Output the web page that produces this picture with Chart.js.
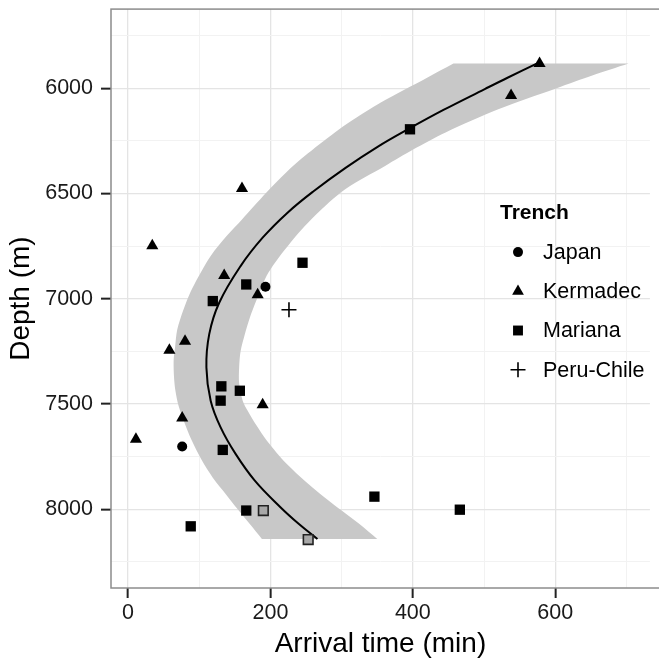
<!DOCTYPE html>
<html><head><meta charset="utf-8">
<script src="https://cdn.jsdelivr.net/npm/chart.js@4.4.0/dist/chart.umd.min.js"></script>
<style>html,body{margin:0;padding:0;background:#fff;overflow:hidden}#wrap{width:659px;height:661px}</style>
</head><body><div id="wrap"><canvas id="c" width="659" height="661"></canvas></div>
<script>
// ---- data (arrival time in min, depth in m) ----
const japanTime = [193, 76];
const japanDepth = [6943, 7702];
const kermadecTime = [578, 538, 160, 34, 135, 182, 80, 58, 189, 76, 11];
const kermadecDepth = [5883, 6035, 6476, 6748, 6890, 6981, 7202, 7245, 7503, 7566, 7667];
const marianaTime = [396, 245, 166, 119, 131, 157, 130, 133, 346, 166, 466, 88];
const marianaDepth = [6195, 6829, 6932, 7011, 7416, 7437, 7484, 7718, 7940, 8006, 8002, 8081];
const marianaGreyTime = [190, 253];
const marianaGreyDepth = [8006, 8144];
const peruChileTime = [226];
const peruChileDepth = [7052];

// fitted curve
const fitDepth = [5883, 5950, 6004, 6103, 6195, 6277, 6377, 6488, 6591, 6710, 6845, 7019, 7168, 7326, 7484, 7611, 7737, 7864, 7990, 8070, 8141];
const fitTime  = [574, 533, 501, 443, 393, 351, 306, 261, 224, 189, 158, 128, 114, 110, 116, 130, 151, 178, 214, 240, 266];

// confidence band edges
const bandLowDepth = [5883, 5950, 6068, 6150, 6211, 6322, 6400, 6496, 6623, 6700, 6797, 6900, 6966, 7050, 7147, 7230, 7292, 7370, 7437, 7510, 7583, 7670, 7764, 7850, 7927, 8000, 8070, 8141];
const bandLowTime  = [457, 420, 355, 316, 290, 248, 222, 194, 160, 139, 116, 98, 88, 78, 69, 66, 64, 64.5, 66.5, 71, 78.6, 89, 103, 119, 137, 154, 171, 188];
const bandHighDepth = [5883, 5940, 6000, 6100, 6210, 6290, 6369, 6480, 6607, 6734, 6877, 7010, 7090, 7168, 7250, 7326, 7400, 7484, 7532, 7600, 7674, 7785, 7896, 8006, 8070, 8141];
const bandHighTime  = [703, 652, 602, 520, 446, 401, 361, 305, 262, 228, 197, 180, 171, 164, 158, 156, 156, 161, 168, 180, 195, 223, 259, 300, 325, 350];

const xTickLabels = [0, 200, 400, 600];
const xGridValues = [0, 100, 200, 300, 400, 500, 600, 700];
const yTickLabels = [6000, 6500, 7000, 7500, 8000];
const yGridValues = [5750, 6000, 6250, 6500, 6750, 7000, 7250, 7500, 7750, 8000, 8250];
const legendTitle = 'Trench';
const legendNames = ['Japan', 'Kermadec', 'Mariana', 'Peru-Chile'];
const xTitle = 'Arrival time (min)';
const yTitle = 'Depth (m)';

const pts = (xs, ys) => xs.map((v, i) => ({x: v, y: ys[i]}));
// closed band outline: lower edge down, upper edge back up; corner points doubled to keep them sharp
const bandLow = pts(bandLowTime, bandLowDepth);
const bandHigh = pts(bandHighTime, bandHighDepth).reverse();
const bandPoints = bandLow
  .concat([bandLow[bandLow.length - 1], bandHigh[0]])
  .concat(bandHigh)
  .concat([bandHigh[bandHigh.length - 1]]);

const FONT = '"Liberation Sans", Arial, Helvetica, sans-serif';
Chart.defaults.font.family = FONT;

const legendStyles = [
  {style: 'circle', r: 5},
  {style: 'triangle', r: 6.8},
  {style: 'rect', r: 7},
  {style: 'cross', r: 7.5}
];

function drawSymbol(ctx, s, x, y) {
  ctx.beginPath();
  if (s.style === 'circle') {
    ctx.arc(x, y, s.r, 0, Math.PI * 2); ctx.fill();
  } else if (s.style === 'triangle') {
    const r = s.r;
    ctx.moveTo(x, y - r);
    ctx.lineTo(x + r * Math.sqrt(3) / 2, y + r / 2);
    ctx.lineTo(x - r * Math.sqrt(3) / 2, y + r / 2);
    ctx.closePath(); ctx.fill();
  } else if (s.style === 'rect') {
    const h = s.r * Math.SQRT1_2;
    ctx.rect(x - h, y - h, 2 * h, 2 * h); ctx.fill();
  } else {
    ctx.lineWidth = 1.6;
    ctx.moveTo(x - s.r, y); ctx.lineTo(x + s.r, y);
    ctx.moveTo(x, y - s.r); ctx.lineTo(x, y + s.r);
    ctx.stroke();
  }
}

const framePlugin = {
  id: 'frame',
  afterDatasetsDraw(chart) {
    const {ctx, chartArea: a} = chart;
    ctx.save();
    ctx.strokeStyle = '#8c8c8c';
    ctx.lineWidth = 1.5;
    ctx.strokeRect(a.left, a.top, a.right - a.left + 10, a.bottom - a.top);
    // legend
    const lx = a.left + 389, ly = a.top + 204;
    ctx.fillStyle = '#000';
    ctx.strokeStyle = '#000';
    ctx.textBaseline = 'middle';
    ctx.textAlign = 'left';
    ctx.font = 'bold 21px ' + FONT;
    ctx.fillText(legendTitle, lx, ly);
    ctx.font = '21.5px ' + FONT;
    legendNames.forEach((n, i) => {
      const yy = ly + 39 + i * 39.2;
      drawSymbol(ctx, legendStyles[i], lx + 18, yy);
      ctx.fillText(n, lx + 43, yy + 1);
    });
    ctx.restore();
  }
};

const majorX = v => v % 200 === 0;
const majorY = v => v % 500 === 0;

new Chart(document.getElementById('c'), {
  type: 'scatter',
  data: {
    datasets: [
      {label: 'band', data: bandPoints, showLine: true, fill: 'shape', backgroundColor: '#c8c8c8',
       borderColor: 'rgba(0,0,0,0)', borderWidth: 0, pointRadius: 0, tension: 0.3, order: 10},
      {label: 'fit', data: pts(fitTime, fitDepth), showLine: true, fill: false, borderColor: '#000',
       borderWidth: 2, pointRadius: 0, tension: 0.4, order: 9},
      {label: legendNames[0], data: pts(japanTime, japanDepth), pointStyle: 'circle', pointRadius: 5,
       backgroundColor: '#000', borderColor: '#000', borderWidth: 0, order: 2},
      {label: legendNames[1], data: pts(kermadecTime, kermadecDepth), pointStyle: 'triangle', pointRadius: 7,
       backgroundColor: '#000', borderColor: '#000', borderWidth: 0, order: 2},
      {label: legendNames[2], data: pts(marianaTime, marianaDepth), pointStyle: 'rect', pointRadius: 7.3,
       backgroundColor: '#000', borderColor: '#000', borderWidth: 0, order: 2},
      {label: legendNames[2] + ' (outlined)', data: pts(marianaGreyTime, marianaGreyDepth), pointStyle: 'rect', pointRadius: 6.8,
       backgroundColor: '#a8a8a8', borderColor: '#222', borderWidth: 1.6, order: 2},
      {label: legendNames[3], data: pts(peruChileTime, peruChileDepth), pointStyle: 'cross', pointRadius: 7.5,
       backgroundColor: '#000', borderColor: '#000', borderWidth: 1.6, order: 1}
    ]
  },
  options: {
    responsive: false,
    animation: false,
    devicePixelRatio: 1,
    layout: {padding: {top: 7, left: 0, right: 0, bottom: 0}},
    plugins: {legend: {display: false}, tooltip: {enabled: false}},
    scales: {
      x: {
        type: 'linear', min: -24, max: 733,
        afterBuildTicks: s => { s.ticks = xGridValues.map(v => ({value: v})); },
        afterFit: s => { s.height = 73; s.paddingLeft = 0; s.paddingRight = 0; },
        ticks: {autoSkip: false, maxRotation: 0, padding: 2, color: '#1a1a1a', font: {size: 21.5},
                callback: v => xTickLabels.includes(v) ? String(v) : ''},
        grid: {
          color: c => majorX(c.tick.value) ? '#e4e4e4' : '#f2f2f2',
          lineWidth: c => majorX(c.tick.value) ? 1.3 : 1,
          drawTicks: true, tickLength: 10, tickWidth: 2,
          tickColor: c => majorX(c.tick.value) ? '#222' : 'rgba(0,0,0,0)'
        },
        border: {display: false},
        title: {display: true, text: xTitle, color: '#000', font: {size: 28, lineHeight: 1}, padding: {top: 0, bottom: 3}}
      },
      y: {
        type: 'linear', reverse: true, min: 5624, max: 8374,
        afterBuildTicks: s => { s.ticks = yGridValues.map(v => ({value: v})); },
        afterFit: s => { s.width = 111; s.paddingTop = 0; s.paddingBottom = 0; },
        ticks: {autoSkip: false, padding: 8, color: '#1a1a1a', font: {size: 21.5},
                callback: v => yTickLabels.includes(v) ? String(v) : ''},
        grid: {
          color: c => majorY(c.tick.value) ? '#e4e4e4' : '#f2f2f2',
          lineWidth: c => majorY(c.tick.value) ? 1.3 : 1,
          drawTicks: true, tickLength: 10, tickWidth: 2,
          tickColor: c => majorY(c.tick.value) ? '#222' : 'rgba(0,0,0,0)'
        },
        border: {display: false},
        title: {display: true, text: yTitle, color: '#000', font: {size: 28, lineHeight: 1}, padding: {top: 7, bottom: 0}}
      }
    }
  },
  plugins: [framePlugin]
});
</script></body></html>
